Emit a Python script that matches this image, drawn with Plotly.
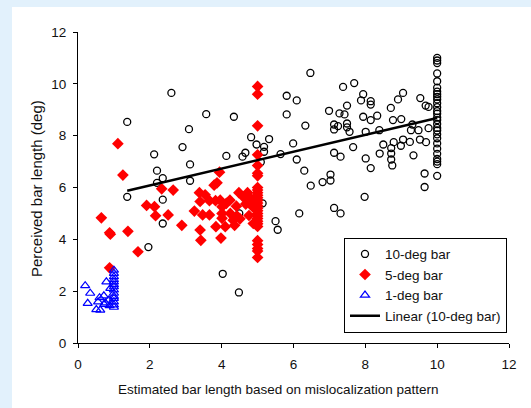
import plotly.graph_objects as go

# ---------------- data ----------------
ten_x = [1.37, 1.37, 1.96, 2.12, 2.20, 2.20, 2.36, 2.36, 2.36, 2.60, 2.91, 3.09, 3.12, 3.12,
         3.57, 4.03, 4.13, 4.34, 4.48, 4.49, 4.58, 4.66, 4.82, 4.97, 5.09, 5.18, 5.18, 5.14,
         5.32, 5.50, 5.56, 5.64, 5.81, 5.81, 5.99, 6.09, 6.09, 6.16, 6.30, 6.33, 6.47, 6.48,
         6.81, 6.99, 7.03, 7.03, 7.13, 7.13, 7.13, 7.13, 7.24, 7.28, 7.31, 7.31, 7.38, 7.42,
         7.49, 7.49, 7.49, 7.56, 7.66, 7.69, 7.88, 7.94, 7.94, 7.98, 8.01, 8.01, 8.15, 8.15,
         8.15, 8.15, 8.33, 8.39, 8.40, 8.50, 8.71, 8.72, 8.72, 8.72, 8.75, 8.77, 8.79, 8.91,
         9.00, 8.99, 9.05, 9.05, 9.24, 9.27, 9.31, 9.34, 9.48, 9.53, 9.52, 9.65, 9.65, 9.68,
         9.69, 9.76, 9.76]
ten_y = [8.53, 5.64, 3.70, 7.28, 6.65, 6.18, 6.36, 5.53, 4.61, 9.65, 7.56, 8.25, 6.89, 6.26,
         8.83, 2.67, 7.22, 8.73, 1.95, 5.00, 7.19, 7.34, 7.94, 7.66, 6.98, 7.57, 7.38, 5.39,
         7.87, 4.70, 4.37, 7.29, 9.54, 8.82, 7.70, 9.36, 7.08, 5.00, 6.65, 8.39, 10.42, 6.07,
         6.21, 8.96, 6.50, 6.27, 8.24, 8.43, 7.34, 5.21, 8.37, 8.86, 7.19, 5.00, 9.88, 8.82,
         9.16, 8.47, 8.32, 8.15, 7.56, 10.03, 9.36, 9.60, 8.73, 5.64, 8.15, 7.12, 9.33, 9.20,
         6.75, 8.60, 8.77, 8.21, 7.31, 7.66, 9.07, 7.52, 7.31, 7.08, 6.85, 8.60, 7.75, 9.40,
         8.64, 7.61, 7.85, 9.65, 7.76, 8.21, 8.43, 7.24, 8.21, 9.45, 7.85, 6.54, 6.02, 9.16,
         7.75, 9.11, 8.29]
ten_col_y = [11.0, 10.9, 10.8, 10.4, 10.1, 9.85, 9.7, 9.6, 9.5, 9.4, 9.25, 9.1, 8.95, 8.85,
             8.7, 8.6, 8.45, 8.3, 8.2, 8.05, 7.9, 7.7, 7.5, 7.3, 7.1, 7.0, 6.9, 6.45]
ten_x = ten_x + [10.0] * len(ten_col_y)
ten_y = ten_y + ten_col_y

five_x = [0.65, 0.88, 0.90, 0.88, 1.11, 1.25, 1.39, 1.67, 1.91, 2.13, 2.16, 2.33, 2.51, 2.65,
          2.89, 3.24, 3.38, 3.54, 3.40, 3.40, 3.42, 3.47, 3.66, 3.66, 3.79, 3.87, 3.83, 3.84,
          3.94, 3.96, 3.98, 4.01, 4.01, 4.01, 4.10, 4.13, 4.23, 4.24, 4.32, 4.36, 4.41, 4.43,
          4.48, 4.51, 4.60, 4.67, 4.72, 4.76, 4.81, 4.86, 4.88]
five_y = [4.83, 4.25, 4.20, 2.90, 7.69, 6.48, 4.31, 3.52, 5.31, 5.26, 4.91, 5.95, 4.94, 5.90,
          4.54, 5.09, 5.80, 5.72, 5.46, 4.36, 3.96, 4.94, 5.49, 4.94, 6.09, 6.18, 5.49, 4.49,
          6.59, 5.51, 4.05, 5.26, 5.00, 4.81, 4.49, 5.39, 5.51, 5.00, 4.74, 4.54, 5.28, 4.90,
          5.80, 4.79, 5.64, 5.36, 5.80, 4.92, 5.58, 5.26, 4.61]
five_col_y = [9.9, 9.6, 8.38, 7.26, 6.85, 6.55, 6.45, 6.0, 5.9, 5.8, 5.7, 5.6, 5.5, 5.4, 5.3,
              5.2, 5.1, 5.0, 4.9, 4.8, 4.7, 4.6, 4.5, 3.95, 3.8, 3.65, 3.55, 3.3]
five_x = five_x + [5.0] * len(five_col_y)
five_y = five_y + five_col_y

one_x = [0.20, 0.34, 0.27, 0.51, 0.62, 0.56, 0.60, 0.72, 0.73, 0.79, 0.86, 0.90, 0.88, 0.76]
one_y = [2.21, 1.92, 1.53, 1.29, 1.27, 1.59, 1.75, 1.82, 1.49, 2.36, 1.66, 2.11, 1.44, 1.55]
one_col_y = [2.81, 2.69, 2.56, 2.45, 2.36, 2.25, 2.17, 2.05, 1.92, 1.80, 1.72, 1.59, 1.47, 1.38]
one_x = one_x + [1.0] * len(one_col_y)
one_y = one_y + one_col_y

# linear trendline of the 10-deg bar (coefficients)
trend_slope = 0.325
trend_intercept = 5.43
trend_x = [min(ten_x), max(ten_x)]
trend_y = [trend_intercept + trend_slope * v for v in trend_x]

x_ticks = [0, 2, 4, 6, 8, 10, 12]
y_ticks = [0, 2, 4, 6, 8, 10, 12]

FONT = "Liberation Sans, Arial, sans-serif"

fig = go.Figure()
fig.add_trace(go.Scatter(
    x=ten_x, y=ten_y, mode="markers", name="10-deg bar",
    marker=dict(symbol="circle-open", size=7, color="black", line=dict(width=1.3, color="black"))))
fig.add_trace(go.Scatter(
    x=five_x, y=five_y, mode="markers", name="5-deg bar",
    marker=dict(symbol="diamond", size=9, color="#ff0000", line=dict(width=0))))
fig.add_trace(go.Scatter(
    x=one_x, y=one_y, mode="markers", name="1-deg bar",
    marker=dict(symbol="triangle-up-open", size=8, color="#0000ff", line=dict(width=1.2, color="#0000ff"))))
fig.add_trace(go.Scatter(
    x=trend_x, y=trend_y, mode="lines", name="Linear (10-deg bar)",
    line=dict(color="black", width=2.5)))

# page: a light-blue band of 12 px on the left and 7 px on top, figure in the rest
BAND_L, BAND_T = 12, 7
PAGE_W, PAGE_H = 531, 408
W, H = PAGE_W - BAND_L, PAGE_H - BAND_T
L, R, T, B = 78 - BAND_L, 22, 32 - BAND_T, 65
pw, ph = W - L - R, H - T - B

def px_to_paper_x(px):  # px in page coordinates
    return (px - BAND_L - L) / pw

def px_to_paper_y(py):
    return (PAGE_H - B - py) / ph

fig.add_annotation(text="Estimated bar length based on mislocalization pattern",
                   xref="paper", yref="paper", x=px_to_paper_x(278), y=px_to_paper_y(389),
                   xanchor="center", yanchor="middle", showarrow=False,
                   font=dict(family=FONT, size=13.5, color="#111111"))
fig.add_annotation(text="Perceived bar length (deg)", textangle=-90,
                   xref="paper", yref="paper", x=px_to_paper_x(36), y=px_to_paper_y(189),
                   xanchor="center", yanchor="middle", showarrow=False,
                   font=dict(family=FONT, size=15, color="#111111"))

axis_common = dict(showgrid=False, zeroline=False, showline=True, linecolor="black", linewidth=1,
                   ticks="outside", ticklen=4, tickcolor="black", tickwidth=1,
                   tickfont=dict(family=FONT, size=13.5, color="#111111"), mirror=False)

fig.update_layout(
    width=W, height=H,
    margin=dict(l=L, r=R, t=T, b=B),
    paper_bgcolor="white", plot_bgcolor="white",
    font=dict(family=FONT, color="#111111"),
    xaxis=dict(range=[0, 12], tickvals=x_ticks, ticklabelstandoff=5, **axis_common),
    yaxis=dict(range=[0, 12], tickvals=y_ticks, ticklabelstandoff=4, **axis_common),
    showlegend=True,
    legend=dict(x=px_to_paper_x(507), y=px_to_paper_y(332.7), xanchor="right", yanchor="bottom",
                bgcolor="white", bordercolor="black", borderwidth=1,
                font=dict(family=FONT, size=13.5, color="#111111"),
                tracegroupgap=0),
)

post = (
    "document.documentElement.style.margin='0';"
    "document.documentElement.style.overflow='hidden';"
    "document.documentElement.style.background='#e2f1fc';"
    "document.body.style.margin='%dpx 0 0 %dpx';"
    "document.body.style.padding='0';"
    "document.body.style.overflow='hidden';"
    "document.body.style.background='#e2f1fc';"
) % (BAND_T, BAND_L)

fig.write_html("out.html", post_script=post, config={"displayModeBar": False})
